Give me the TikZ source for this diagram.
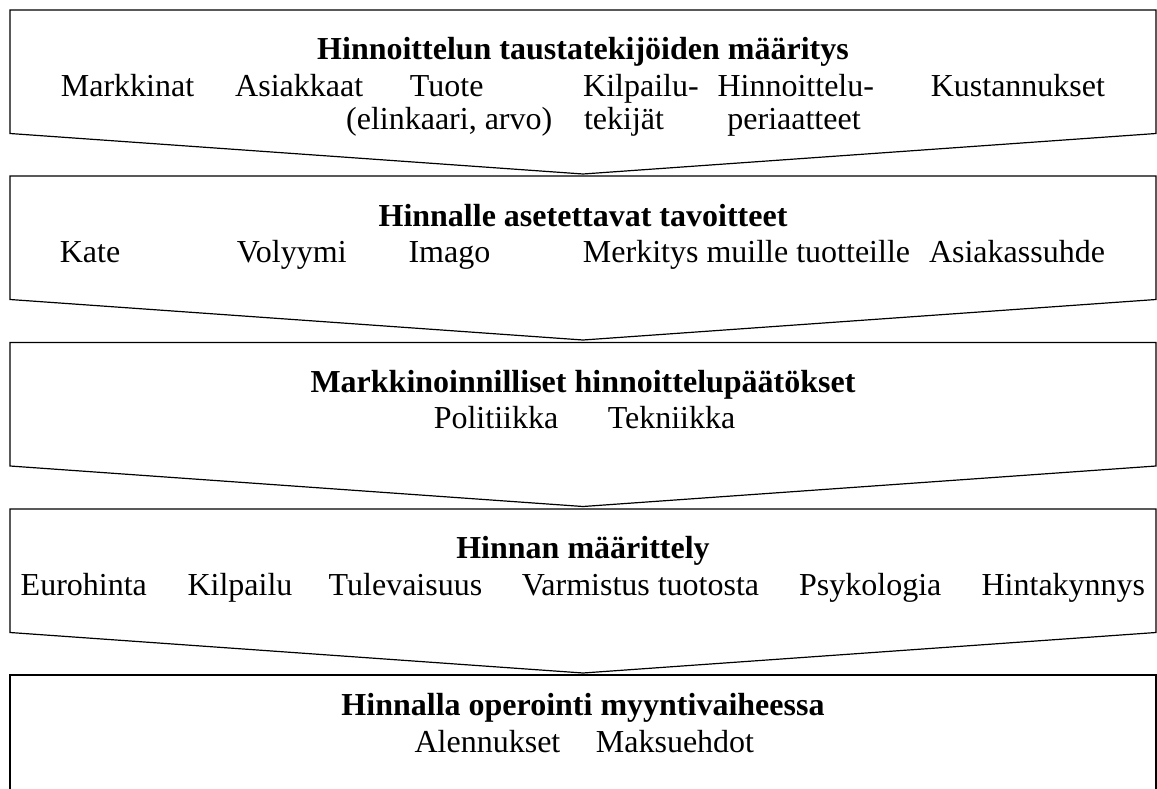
\documentclass[tikz,border=0pt]{standalone}
\usepackage{fontspec}
\setmainfont{Liberation Serif}
\usetikzlibrary{calc,positioning}

\begin{document}
\begin{tikzpicture}[x=0.75pt,y=-0.75pt,line width=0.9pt,
every node/.style={inner sep=0pt,outer sep=0pt,anchor=base,font=\fontsize{24}{24}\selectfont},
stepTitle/.style={font=\fontsize{24}{24}\selectfont\bfseries}]

\useasboundingbox (0,0) rectangle (1157,789);

\def\xLeft{10}
\def\xRight{1156}
\def\xMid{583}
\def\tops{10,176,342.5,509}

% draw the chevrons
\foreach \t [count=\ti] in \tops
{
\pgfmathsetmacro\corner{\t+123.5}
\pgfmathsetmacro\tip{\t+164}
\draw (\xLeft,\corner) -- (\xLeft,\t) -- (\xRight,\t) -- (\xRight,\corner) -- (\xMid,\tip) -- cycle;
}
% the last box runs off the page
\draw (\xLeft,800) -- (\xLeft,675) -- (\xRight,675) -- (\xRight,800);

% the titles
\def\titles{
59/{Hinnoittelun taustatekijöiden määritys},
226/{Hinnalle asetettavat tavoitteet},
392/{Markkinoinnilliset hinnoittelupäätökset},
558/{Hinnan määrittely},
715/{Hinnalla operointi myyntivaiheessa}
}
\foreach \y/\name [count=\ni] in \titles
\node[stepTitle] (title\ni) at (\xMid,\y) {\name};

% the factors under each title
\def\items{
127.5/96/{Markkinat}, 299.2/96/{Asiakkaat}, 446.7/96/{Tuote}, 449.2/129/{(elinkaari, arvo)},
641/96/{Kilpailu-}, 624/129/{tekijät}, 795.8/96/{Hinnoittelu-}, 794/129/{periaatteet},
1017.9/96/{Kustannukset},
90/262/{Kate}, 291.8/262/{Volyymi}, 449.4/262/{Imago}, 746.5/262/{Merkitys muille tuotteille},
1017/262/{Asiakassuhde},
496/428/{Politiikka}, 671.5/428/{Tekniikka},
83.8/595/{Eurohinta}, 240/595/{Kilpailu}, 405.5/595/{Tulevaisuus}, 640.5/595/{Varmistus tuotosta},
870.3/595/{Psykologia}, 1063.4/595/{Hintakynnys},
487.5/752/{Alennukset}, 675/752/{Maksuehdot}
}
\foreach \x/\y/\name [count=\ni] in \items
\node (item\ni) at (\x,\y) {\name};

\end{tikzpicture}
\end{document}
